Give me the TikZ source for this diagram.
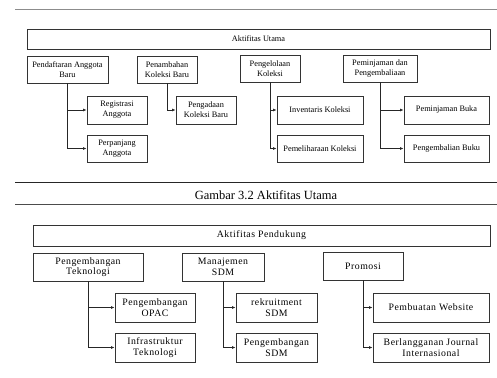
\documentclass[tikz,border=0pt]{standalone}
\usepackage{fontspec}
\setmainfont{Liberation Serif}
\newfontfamily\widefont[LetterSpace=5]{Liberation Serif}
\usepackage{tikz}
\usetikzlibrary{arrows.meta,calc,positioning}

\begin{document}
\begin{tikzpicture}[x=1pt,y=-1pt,
  kotak/.style={draw=black!80,line width=0.9pt,align=center,inner sep=1pt,font=\fontsize{8.3}{10}\selectfont},
  kotakb/.style={draw=black!80,line width=0.9pt,align=center,inner sep=1pt,font=\widefont\fontsize{9.8}{10.5}\selectfont},
  panah/.style={draw=black!85,line width=0.8pt,-{Latex[length=3.5pt,width=3pt]}}]
\useasboundingbox (0,0) rectangle (497,377);
\draw[black!45,line width=0.8pt] (15,9)--(497,9);
% aktifitas utama
\node[kotak,minimum width=463pt,minimum height=20pt] (utama) at (258.5,39){Aktifitas Utama};
\node[kotak,minimum width=81pt,minimum height=27pt] (daftar) at (67.5,69.5){Pendaftaran Anggota\\Baru};
\node[kotak,minimum width=60pt,minimum height=27pt] (tambah) at (167,69.5){Penambahan\\Koleksi Baru};
\node[kotak,minimum width=60pt,minimum height=27pt] (kelola) at (270,68.5){Pengelolaan\\Koleksi};
\node[kotak,minimum width=74pt,minimum height=27pt] (pinjam) at (380,68.5){Peminjaman dan\\Pengembaliaan};
\node[kotak,minimum width=60pt,minimum height=28pt] (registrasi) at (117,110){Registrasi\\Anggota};
\node[kotak,minimum width=60pt,minimum height=27pt] (perpanjang) at (117,148.5){Perpanjang\\Anggota};
\node[kotak,minimum width=60pt,minimum height=28pt] (pengadaan) at (206,110){Pengadaan\\Koleksi Baru};
\node[kotak,minimum width=86pt,minimum height=28pt] (inventaris) at (320,110){Inventaris Koleksi};
\node[kotak,minimum width=86pt,minimum height=27pt] (pelihara) at (320,148.5){Pemeliharaan Koleksi};
\node[kotak,minimum width=85pt,minimum height=28pt] (pinjambuku) at (446.5,110){Peminjaman Buka};
\node[kotak,minimum width=85pt,minimum height=27pt] (kembali) at (446.5,148.5){Pengembalian Buku};
\foreach \a/\b in {daftar/registrasi,daftar/perpanjang,tambah/pengadaan,kelola/inventaris,kelola/pelihara,pinjam/pinjambuku,pinjam/kembali}
  {\draw[panah] (\a.south) |- (\b.west);}
% judul gambar
\draw[black!85,line width=0.9pt] (15,182.5)--(497,182.5);
\draw[black!70,line width=0.8pt] (15,204)--(497,204);
\node[font=\fontsize{12.5}{14}\selectfont,inner sep=0pt] (judul) at (266,195){Gambar 3.2 Aktifitas Utama};
% aktifitas pendukung
\node[kotakb,minimum width=457pt,minimum height=21pt] (dukung) at (261.5,235.5){Aktifitas Pendukung};
\node[kotakb,minimum width=110pt,minimum height=28pt] (tekno) at (88,267){Pengembangan\\Teknologi};
\node[kotakb,minimum width=82pt,minimum height=28pt] (sdm) at (223,267){Manajemen\\SDM};
\node[kotakb,minimum width=80pt,minimum height=28pt] (promosi) at (363,266){Promosi};
\node[kotakb,minimum width=80pt,minimum height=29pt] (opac) at (155,307.5){Pengembangan\\OPAC};
\node[kotakb,minimum width=80pt,minimum height=29pt] (infra) at (155,347.5){Infrastruktur\\Teknologi};
\node[kotakb,minimum width=81pt,minimum height=29pt] (rekrut) at (276.5,307.5){rekruitment\\SDM};
\node[kotakb,minimum width=81pt,minimum height=29pt] (kembangsdm) at (276.5,347.5){Pengembangan\\SDM};
\node[kotakb,minimum width=116pt,minimum height=29pt] (web) at (431,307.5){Pembuatan Website};
\node[kotakb,minimum width=116pt,minimum height=29pt] (jurnal) at (431,347.5){Berlangganan Journal\\Internasional};
\foreach \a/\b in {tekno/opac,tekno/infra,sdm/rekrut,sdm/kembangsdm,promosi/web,promosi/jurnal}
  {\draw[panah] (\a.south) |- (\b.west);}
\end{tikzpicture}
\end{document}
